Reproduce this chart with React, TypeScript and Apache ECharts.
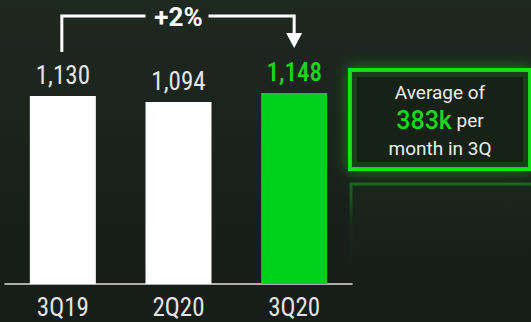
import React, { useEffect, useRef } from "react";
import * as echarts from "echarts";

const categories = ["3Q19", "2Q20", "3Q20"];
const values = [1130, 1094, 1148];
const barColors = ["#ffffff", "#ffffff", "#00d21c"];
const labelColors = ["#e6e6e6", "#e6e6e6", "#1fd41f"];
const changeText = "+2%";
const boxLine1 = "Average of";
const boxHighlight = "383k";
const boxLine2Rest = " per";
const boxLine3 = "month in 3Q";

const condensed = "'Roboto Condensed', 'Liberation Sans Narrow', 'DejaVu Sans Condensed', Roboto, sans-serif";

export default function App() {
  const ref = useRef<HTMLDivElement>(null);
  useEffect(() => {
    if (!ref.current) return;
    const chart = echarts.init(ref.current, undefined, { renderer: "svg" });
    chart.setOption({
      animation: false,
      backgroundColor: "transparent",
      grid: { left: 5, right: 179, top: 51, bottom: 38, containLabel: false },
      xAxis: {
        type: "category",
        data: categories,
        axisLine: { show: true, lineStyle: { color: "#e0e0e0", width: 1.5 } },
        axisTick: { show: false },
        axisLabel: {
          color: "#e4e4e4",
          fontSize: 25,
          fontFamily: condensed,
          margin: 11,
        },
      },
      yAxis: {
        type: "value",
        min: 0,
        max: 1400,
        show: false,
        splitLine: { show: false },
      },
      series: [
        {
          type: "bar",
          barWidth: 66,
          data: values.map((v, i) => ({
            value: v,
            itemStyle: { color: barColors[i] },
            label: {
              color: labelColors[i],
              fontWeight: i === 2 ? 500 : 400,
            },
          })),
          label: {
            show: true,
            position: "top",
            distance: 8,
            fontSize: 25,
            fontFamily: condensed,
            formatter: (p: any) => Number(p.value).toLocaleString("en-US"),
          },
        },
      ],
    });

    const a = chart.convertToPixel({ gridIndex: 0 }, [0, values[0]]) as number[];
    const b = chart.convertToPixel({ gridIndex: 0 }, [1, values[1]]) as number[];
    const c = chart.convertToPixel({ gridIndex: 0 }, [2, values[2]]) as number[];
    const lineY = 16;
    const lx = a[0] - 1;
    const rx = c[0];
    const midX = b[0];
    const stroke = { stroke: "#ffffff", lineWidth: 3, fill: "none" };

    chart.setOption({
      graphic: [
        {
          type: "polyline",
          shape: { points: [[lx, 52], [lx, lineY], [midX - 33, lineY]] },
          style: stroke,
        },
        {
          type: "polyline",
          shape: { points: [[midX + 30, lineY], [rx, lineY], [rx, 36]] },
          style: stroke,
        },
        {
          type: "polygon",
          shape: { points: [[rx - 8, 33], [rx + 8, 33], [rx, 48]] },
          style: { fill: "#ffffff" },
        },
        {
          type: "text",
          x: midX,
          y: 17,
          style: {
            text: changeText,
            fill: "#ffffff",
            font: "bold 26px Roboto, sans-serif",
            align: "center",
            verticalAlign: "middle",
          },
        },
        // reflection of box
        {
          type: "rect",
          shape: { x: 351, y: 184, width: 182, height: 80 },
          style: {
            fill: new echarts.graphic.LinearGradient(0, 0, 0, 1, [
              { offset: 0, color: "rgba(40,90,40,0.08)" },
              { offset: 1, color: "rgba(40,90,40,0)" },
            ]),
            stroke: new echarts.graphic.LinearGradient(0, 0, 0, 1, [
              { offset: 0, color: "rgba(30,200,40,0.4)" },
              { offset: 0.5, color: "rgba(30,200,40,0.06)" },
              { offset: 1, color: "rgba(30,200,40,0)" },
            ]),
            lineWidth: 3,
          },
        },
        // glow box
        {
          type: "rect",
          shape: { x: 350, y: 70, width: 180, height: 99 },
          style: {
            fill: "#172019",
            stroke: "#14e01c",
            lineWidth: 4,
            shadowBlur: 16,
            shadowColor: "rgba(40,220,40,0.5)",
          },
        },
        {
          type: "rect",
          shape: { x: 354, y: 74, width: 172, height: 91 },
          style: {
            fill: "none",
            stroke: "rgba(40,160,40,0.22)",
            lineWidth: 6,
          },
        },
        {
          type: "text",
          x: 440,
          y: 120,
          style: {
            text: boxLine1 + "\n{g|" + boxHighlight + "}" + boxLine2Rest + "\n" + boxLine3,
            fill: "#eeeeee",
            fontSize: 19,
            fontFamily: "Roboto, sans-serif",
            lineHeight: 28,
            align: "center",
            verticalAlign: "middle",
            rich: {
              g: {
                fill: "#1fd41f",
                fontSize: 25,
                fontWeight: 500,
                fontFamily: "Roboto, sans-serif",
                lineHeight: 28,
              },
            },
          },
        },
      ],
    });

    return () => chart.dispose();
  }, []);

  return (
    <div
      ref={ref}
      style={{
        position: "fixed",
        left: 0,
        top: 0,
        width: 531,
        height: 322,
        background: "linear-gradient(180deg, #1e2920 0%, #1a221c 45%, #171d19 100%)",
      }}
    />
  );
}
